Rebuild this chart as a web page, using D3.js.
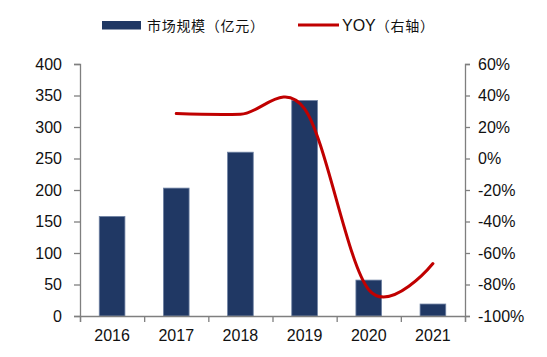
<!DOCTYPE html>
<html><head><meta charset="utf-8">
<script src="https://cdn.jsdelivr.net/npm/d3@7"></script>
<style>
body{margin:0;background:#fff;}
text{font-family:"Liberation Sans",Arial,sans-serif;fill:#111;}
.cjk{font-family:"Noto Sans CJK SC","Liberation Sans",sans-serif;}
</style></head>
<body>
<svg id="chart" width="547" height="357"></svg>
<script>
const years = ["2016","2017","2018","2019","2020","2021"];
const marketSize = [158, 203, 260, 342, 57, 19];
const yoy = [null, 28.5, 28.1, 31.5, -83.3, -66.7];
const leftTicks = [0,50,100,150,200,250,300,350,400];
const rightTicks = [-100,-80,-60,-40,-20,0,20,40,60];
const legendBar = "市场规模（亿元）";
const legendLine = "YOY";
const legendLineSuffix = "（右轴）";

const svg = d3.select("#chart");
const L = 80, R = 465, T = 64, B = 316;
const axisColor = "#7f7f7f";

const x = d3.scaleBand().domain(years).range([L, R]).paddingInner(0.6).paddingOuter(0.3);
const xLin = d3.scaleLinear().domain([0, years.length]).range([L, R]);
const yL = d3.scaleLinear().domain([0, 400]).range([B, T]);
const yR = d3.scaleLinear().domain([-100, 60]).range([B, T]);

// bars
svg.append("g").selectAll("rect").data(years).join("rect")
  .attr("x", d => x(d))
  .attr("y", (d,i) => yL(marketSize[i]))
  .attr("width", x.bandwidth())
  .attr("height", (d,i) => B - yL(marketSize[i]))
  .attr("fill", "#203864")
  .attr("stroke", "#6f82a3")
  .attr("stroke-width", 0.8);

// left axis
const gL = svg.append("g").attr("transform", `translate(${L},0)`)
  .call(d3.axisLeft(yL).tickValues(leftTicks).tickSize(6).tickPadding(12).tickFormat(d3.format("d")));
// right axis
const gR = svg.append("g").attr("transform", `translate(${R},0)`)
  .call(d3.axisRight(yR).tickValues(rightTicks).tickSize(5).tickPadding(8).tickFormat(d => d + "%"));
// bottom axis ticks at boundaries
const gB = svg.append("g").attr("transform", `translate(0,${B})`)
  .call(d3.axisBottom(xLin).tickValues(d3.range(0, years.length + 1)).tickSize(6).tickFormat(""));
// bottom labels
const gBL = svg.append("g").attr("transform", `translate(0,${B})`)
  .call(d3.axisBottom(x).tickSize(0).tickPadding(14));
gBL.select(".domain").remove();

[gL, gR, gB].forEach(g => {
  g.select(".domain").attr("stroke", axisColor).attr("stroke-width", 1.3);
  g.selectAll(".tick line").attr("stroke", axisColor).attr("stroke-width", 1.3);
});
[gL, gR, gBL].forEach(g => {
  g.selectAll("text").attr("font-size", 16).attr("font-family", '"Liberation Sans",Arial,sans-serif').attr("fill", "#111");
});

// line
const pts = years.map((d,i) => [x(d) + x.bandwidth()/2, yoy[i]]).filter(p => p[1] !== null);
const line = d3.line().x(p => p[0]).y(p => yR(p[1])).curve(d3.curveCatmullRom.alpha(0));
svg.append("path").datum(pts).attr("d", line)
  .attr("fill", "none").attr("stroke", "#c00000").attr("stroke-width", 3).attr("stroke-linecap", "round");

// legend
svg.append("rect").attr("x", 102).attr("y", 21).attr("width", 39).attr("height", 8.5).attr("fill", "#203864");
svg.append("text").attr("class", "cjk").attr("x", 147).attr("y", 31).attr("font-size", 14)
  .attr("letter-spacing", 0.7).text(legendBar);
svg.append("line").attr("x1", 298).attr("x2", 339).attr("y1", 25).attr("y2", 25)
  .attr("stroke", "#c00000").attr("stroke-width", 3);
const lt = svg.append("text").attr("x", 342).attr("y", 31);
lt.append("tspan").attr("font-size", 16).text(legendLine);
lt.append("tspan").attr("class", "cjk").attr("font-size", 14).attr("letter-spacing", 0.7).text(legendLineSuffix);
</script>
</body></html>
